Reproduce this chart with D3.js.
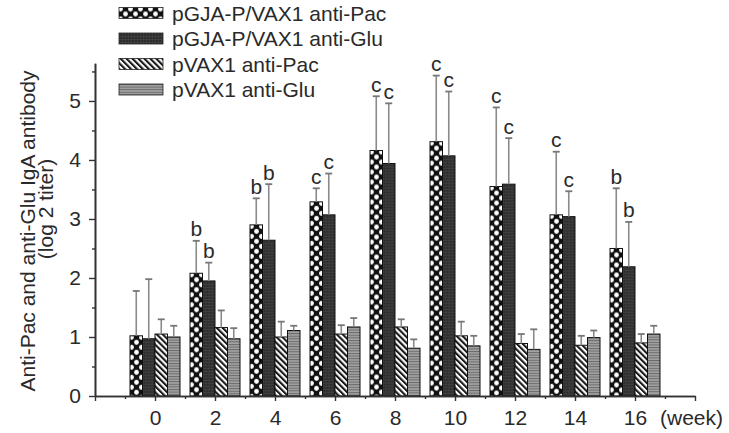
<!DOCTYPE html>
<html>
<head>
<meta charset="utf-8">
<script src="https://cdn.jsdelivr.net/npm/d3@7"></script>
<style>
  html, body { margin: 0; padding: 0; background: #fff; }
  svg { display: block; font-family: "Liberation Sans", Arial, Helvetica, sans-serif; }
</style>
</head>
<body>
<svg id="chart" width="729" height="433"></svg>
<script>
// ---- data ----
const weeks = [0, 2, 4, 6, 8, 10, 12, 14, 16];
const seriesNames = ["pGJA-P/VAX1 anti-Pac", "pGJA-P/VAX1 anti-Glu", "pVAX1 anti-Pac", "pVAX1 anti-Glu"];
const gjaPac    = [1.02, 2.08, 2.90, 3.29, 4.16, 4.31, 3.55, 3.07, 2.50];
const gjaPacErr = [0.76, 0.55, 0.45, 0.23, 0.92, 1.12, 1.34, 1.07, 1.02];
const gjaGlu    = [0.97, 1.95, 2.64, 3.07, 3.94, 4.07, 3.59, 3.04, 2.19];
const gjaGluErr = [1.01, 0.31, 0.95, 0.70, 1.02, 1.09, 0.78, 0.43, 0.76];
const vaxPac    = [1.05, 1.16, 1.00, 1.05, 1.17, 1.02, 0.89, 0.86, 0.90];
const vaxPacErr = [0.25, 0.29, 0.26, 0.15, 0.13, 0.24, 0.16, 0.16, 0.15];
const vaxGlu    = [1.00, 0.97, 1.11, 1.17, 0.81, 0.85, 0.79, 0.99, 1.05];
const vaxGluErr = [0.19, 0.18, 0.08, 0.15, 0.15, 0.17, 0.34, 0.12, 0.14];
const gjaPacSig = ["", "b", "b", "c", "c", "c", "c", "c", "b"];
const gjaGluSig = ["", "b", "b", "c", "c", "c", "c", "c", "b"];
const yTicks = [0, 1, 2, 3, 4, 5];
const xTicks = [-2, 0, 2, 4, 6, 8, 10, 12, 14, 16, 18];
const xLabels = ["", "0", "2", "4", "6", "8", "10", "12", "14", "16", ""];
const yTitle1 = "Anti-Pac and anti-Glu IgA antibody";
const yTitle2 = "(log 2 titer)";
const xUnit = "(week)";

const series = [
  { name: seriesNames[0], values: gjaPac, err: gjaPacErr, sig: gjaPacSig, pat: "p0" },
  { name: seriesNames[1], values: gjaGlu, err: gjaGluErr, sig: gjaGluSig, pat: "p1" },
  { name: seriesNames[2], values: vaxPac, err: vaxPacErr, sig: null, pat: "p2" },
  { name: seriesNames[3], values: vaxGlu, err: vaxGluErr, sig: null, pat: "p3" }
];

const svg = d3.select("#chart");
const textColor = "#2a2a2a";
const axisColor = "#333";

// ---- patterns ----
const defs = svg.append("defs");
// checker / dots
const p0 = defs.append("pattern").attr("id", "p0").attr("patternUnits", "userSpaceOnUse")
  .attr("width", 10).attr("height", 10);
p0.append("rect").attr("width", 10).attr("height", 10).attr("fill", "#111");
[[0,0],[10,0],[5,5],[0,10],[10,10]].forEach(([cx, cy]) =>
  p0.append("circle").attr("cx", cx + 1.5).attr("cy", cy + 1.5).attr("r", 2.4).attr("fill", "#fff"));
[[-5,0],[5,0],[0,5],[10,5],[-5,10],[5,10]].forEach(([cx, cy]) =>
  p0.append("circle").attr("cx", cx + 1.5 + 2.5).attr("cy", cy + 1.5 + 0).attr("r", 0).attr("fill", "#fff"));
// dark grid
const p1 = defs.append("pattern").attr("id", "p1").attr("patternUnits", "userSpaceOnUse")
  .attr("width", 3).attr("height", 3);
p1.append("rect").attr("width", 3).attr("height", 3).attr("fill", "#2c2c2c");
p1.append("rect").attr("x", 0).attr("y", 0).attr("width", 3).attr("height", 0.6).attr("fill", "#4a4a4a");
p1.append("rect").attr("x", 0).attr("y", 0).attr("width", 0.6).attr("height", 3).attr("fill", "#444");
// diagonal stripes "\"
const p2 = defs.append("pattern").attr("id", "p2").attr("patternUnits", "userSpaceOnUse")
  .attr("width", 4.2).attr("height", 10).attr("patternTransform", "rotate(-45)");
p2.append("rect").attr("width", 4.2).attr("height", 10).attr("fill", "#fff");
p2.append("rect").attr("width", 2.1).attr("height", 10).attr("fill", "#1a1a1a");
// horizontal lines gray
const p3 = defs.append("pattern").attr("id", "p3").attr("patternUnits", "userSpaceOnUse")
  .attr("width", 4).attr("height", 2.6);
p3.append("rect").attr("width", 4).attr("height", 2.6).attr("fill", "#a3a3a3");
p3.append("rect").attr("width", 4).attr("height", 1).attr("fill", "#6a6a6a");

// ---- scales ----
const x = d3.scaleLinear().domain([-2, 18]).range([95, 695]);
const y = d3.scaleLinear().domain([0, 5.64]).range([396, 63.2]);
const inner = d3.scaleBand().domain(d3.range(series.length)).range([-25, 25]).padding(0);

// ---- bars ----
const gBars = svg.append("g");
series.forEach((s, si) => {
  weeks.forEach((w, wi) => {
    const bx = x(w) + inner(si);
    const bw = inner.bandwidth();
    const v = s.values[wi];
    const g = gBars.append("g").attr("transform", `translate(${bx},${y(v)})`);
    g.append("rect").attr("x", 0).attr("y", 0).attr("width", bw).attr("height", y(0) - y(v))
      .attr("fill", `url(#${s.pat})`).attr("stroke", "#111").attr("stroke-width", 1);
  });
});

// ---- error bars ----
const gErr = svg.append("g");
series.forEach((s, si) => {
  weeks.forEach((w, wi) => {
    const cx = x(w) + inner(si) + inner.bandwidth() / 2;
    const v = s.values[wi], top = v + s.err[wi];
    gErr.append("line").attr("x1", cx).attr("x2", cx).attr("y1", y(v)).attr("y2", y(top))
      .attr("stroke", "#8a8a8a").attr("stroke-width", 1.6);
    gErr.append("line").attr("x1", cx - 3.5).attr("x2", cx + 3.5).attr("y1", y(top)).attr("y2", y(top))
      .attr("stroke", "#777").attr("stroke-width", 1.8);
    if (s.sig && s.sig[wi]) {
      gErr.append("text").attr("x", cx).attr("y", y(top) - 4.5).attr("text-anchor", "middle")
        .attr("font-size", 21).attr("fill", textColor).text(s.sig[wi]);
    }
  });
});

// ---- axes ----
const yAxis = svg.append("g").attr("transform", `translate(${x(-2)},0)`)
  .call(d3.axisLeft(y).tickValues(yTicks).tickSize(6).tickSizeOuter(0).tickPadding(8).tickFormat(d3.format("d")));
const yMinor = svg.append("g").attr("transform", `translate(${x(-2)},0)`)
  .call(d3.axisLeft(y).tickValues(d3.range(0.5, 5.6, 1)).tickSize(3).tickSizeOuter(0).tickFormat(""));
const xAxis = svg.append("g").attr("transform", `translate(0,${y(0)})`)
  .call(d3.axisBottom(x).tickValues(xTicks).tickSize(5).tickSizeOuter(0).tickPadding(9)
    .tickFormat((d, i) => xLabels[i]));
const xMinor = svg.append("g").attr("transform", `translate(0,${y(0)})`)
  .call(d3.axisBottom(x).tickValues(d3.range(-1, 18, 2)).tickSize(3).tickSizeOuter(0).tickFormat(""));

[yAxis, yMinor, xAxis, xMinor].forEach(a => {
  a.selectAll("path.domain").attr("stroke", axisColor).attr("stroke-width", 1.6);
  a.selectAll(".tick line").attr("stroke", axisColor).attr("stroke-width", 1.4);
  a.selectAll(".tick text").attr("fill", textColor).attr("font-size", 21)
    .attr("font-family", "'Liberation Sans', Arial, sans-serif");
});

svg.append("text").attr("x", 660).attr("y", 425).attr("font-size", 21).attr("fill", textColor).text(xUnit);

// ---- y title ----
svg.append("text").attr("transform", "translate(35,231) rotate(-90)").attr("text-anchor", "middle")
  .attr("font-size", 21).attr("fill", textColor).text(yTitle1);
svg.append("text").attr("transform", "translate(53,209) rotate(-90)").attr("text-anchor", "middle")
  .attr("font-size", 21).attr("fill", textColor).text(yTitle2);

// ---- legend ----
const legend = svg.append("g");
series.forEach((s, i) => {
  const base = 20.5 + i * 25.5;
  const g = legend.append("g").attr("transform", `translate(119,${base - 13})`);
  g.append("rect").attr("width", 44).attr("height", 11).attr("fill", `url(#${s.pat})`)
    .attr("stroke", "#222").attr("stroke-width", 0.8);
  legend.append("text").attr("x", 172).attr("y", base).attr("font-size", 21).attr("fill", textColor).text(s.name);
});
</script>
</body>
</html>
